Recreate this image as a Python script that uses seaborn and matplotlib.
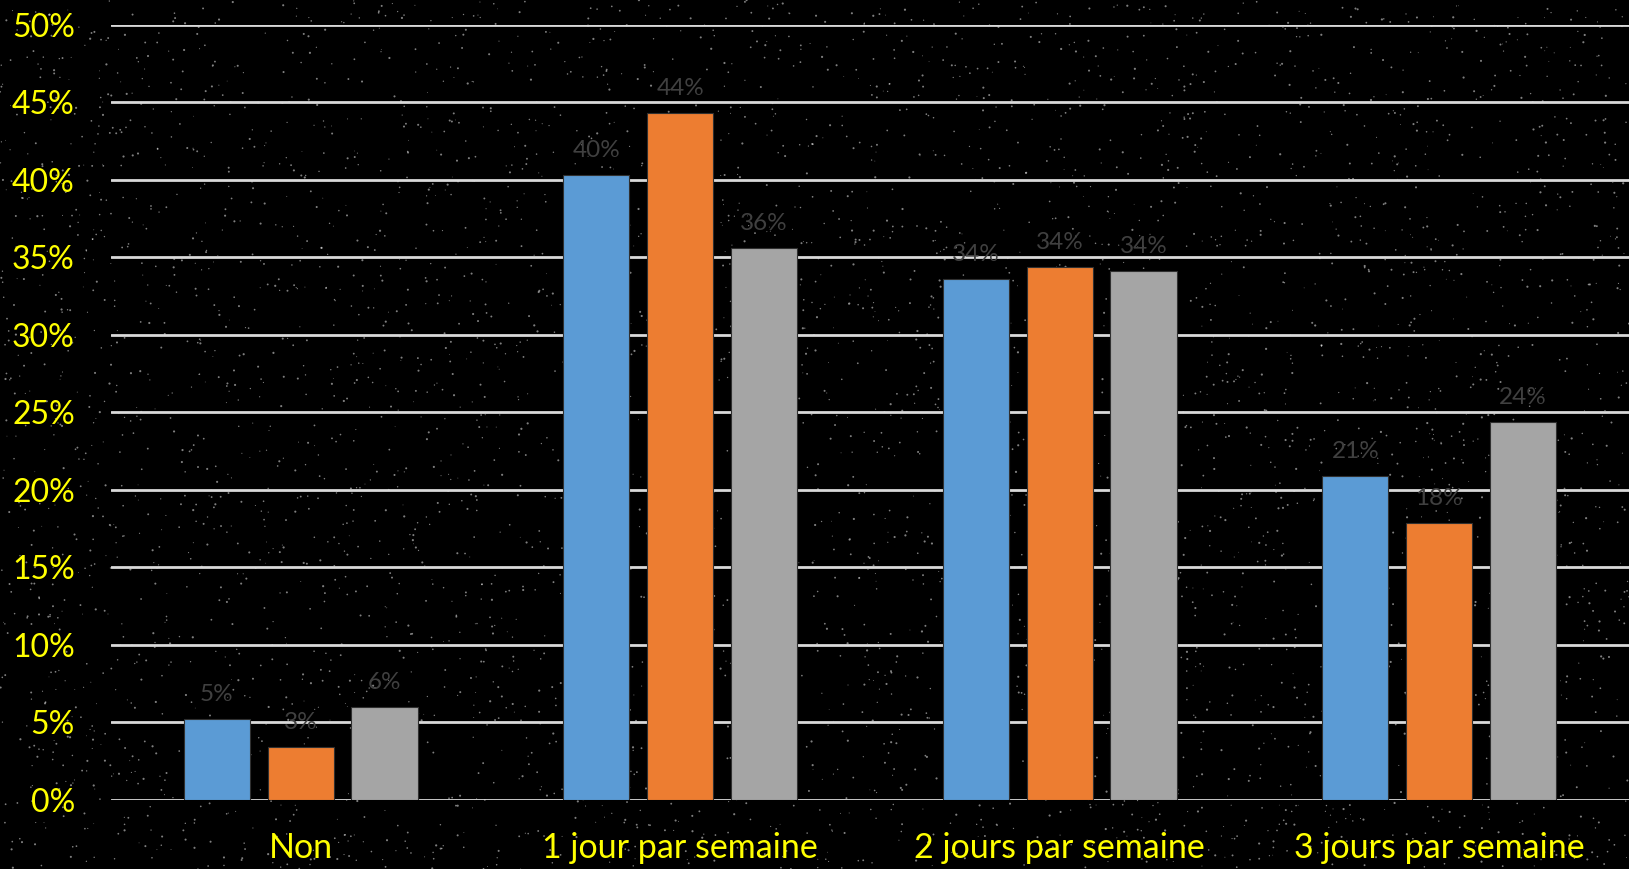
import numpy as np
import pandas as pd
import matplotlib
matplotlib.use("Agg")
import matplotlib.pyplot as plt
import seaborn as sns

# data (percent)
categories = ["Non", "1 jour par semaine", "2 jours par semaine", "3 jours par semaine"]
series_names = ["Série 1", "Série 2", "Série 3"]
serie1 = [5.2, 40.3, 33.6, 20.9]
serie2 = [3.45, 44.3, 34.4, 17.85]
serie3 = [6.0, 35.6, 34.1, 24.4]
y_ticks = [0, 5, 10, 15, 20, 25, 30, 35, 40, 45, 50]

colors = ["#5B9BD5", "#ED7D31", "#A5A5A5"]

df = pd.DataFrame({
    "categorie": categories * 3,
    "serie": np.repeat(series_names, len(categories)),
    "valeur": serie1 + serie2 + serie3,
})

sns.set_style("dark")
plt.rcParams['font.family'] = ['Lato', 'DejaVu Sans']

fig = plt.figure(figsize=(16.29, 8.69), dpi=100, facecolor="black")

# starry background texture (decoration only)
bg = fig.add_axes([0, 0, 1, 1], zorder=-5)
bg.set_facecolor("black")
bg.set_xlim(0, 1)
bg.set_ylim(0, 1)
bg.axis("off")
rng = np.random.default_rng(3)
n = 5000
bg.scatter(rng.random(n), rng.random(n), s=rng.uniform(0.3, 2.5, n),
           c="white", alpha=0.5, linewidths=0)

ax = fig.add_axes([0.0681, 0.0794, 0.9319, 0.8922])
ax.set_facecolor("none")

sns.barplot(data=df, x="categorie", y="valeur", hue="serie", palette=colors,
            saturation=1, width=0.663, gap=0.21, ax=ax, legend=False, zorder=3,
            edgecolor="#303030", linewidth=0.8, errorbar=None)

for cont in ax.containers:
    ax.bar_label(cont, fmt="{:.0f}%", padding=10, color="#404040", fontsize=17.5)

ax.set_ylim(0, 50)
ax.set_xlim(-0.5, 3.5)
ax.set_yticks(y_ticks)
ax.set_yticklabels([f"{t}%" for t in y_ticks])
ax.grid(axis="y", color="#D9D9D9", linewidth=2, zorder=1)
ax.grid(axis="x", visible=False)
ax.set_axisbelow(True)
ax.tick_params(axis="y", colors="#FFFF00", labelsize=23, length=0, pad=26)
ax.tick_params(axis="x", colors="#FFFF00", labelsize=24.5, length=0, pad=23)
ax.set_xlabel("")
ax.set_ylabel("")
for s in ax.spines.values():
    s.set_visible(False)

fig.savefig("out.png", dpi=100, facecolor="black")
